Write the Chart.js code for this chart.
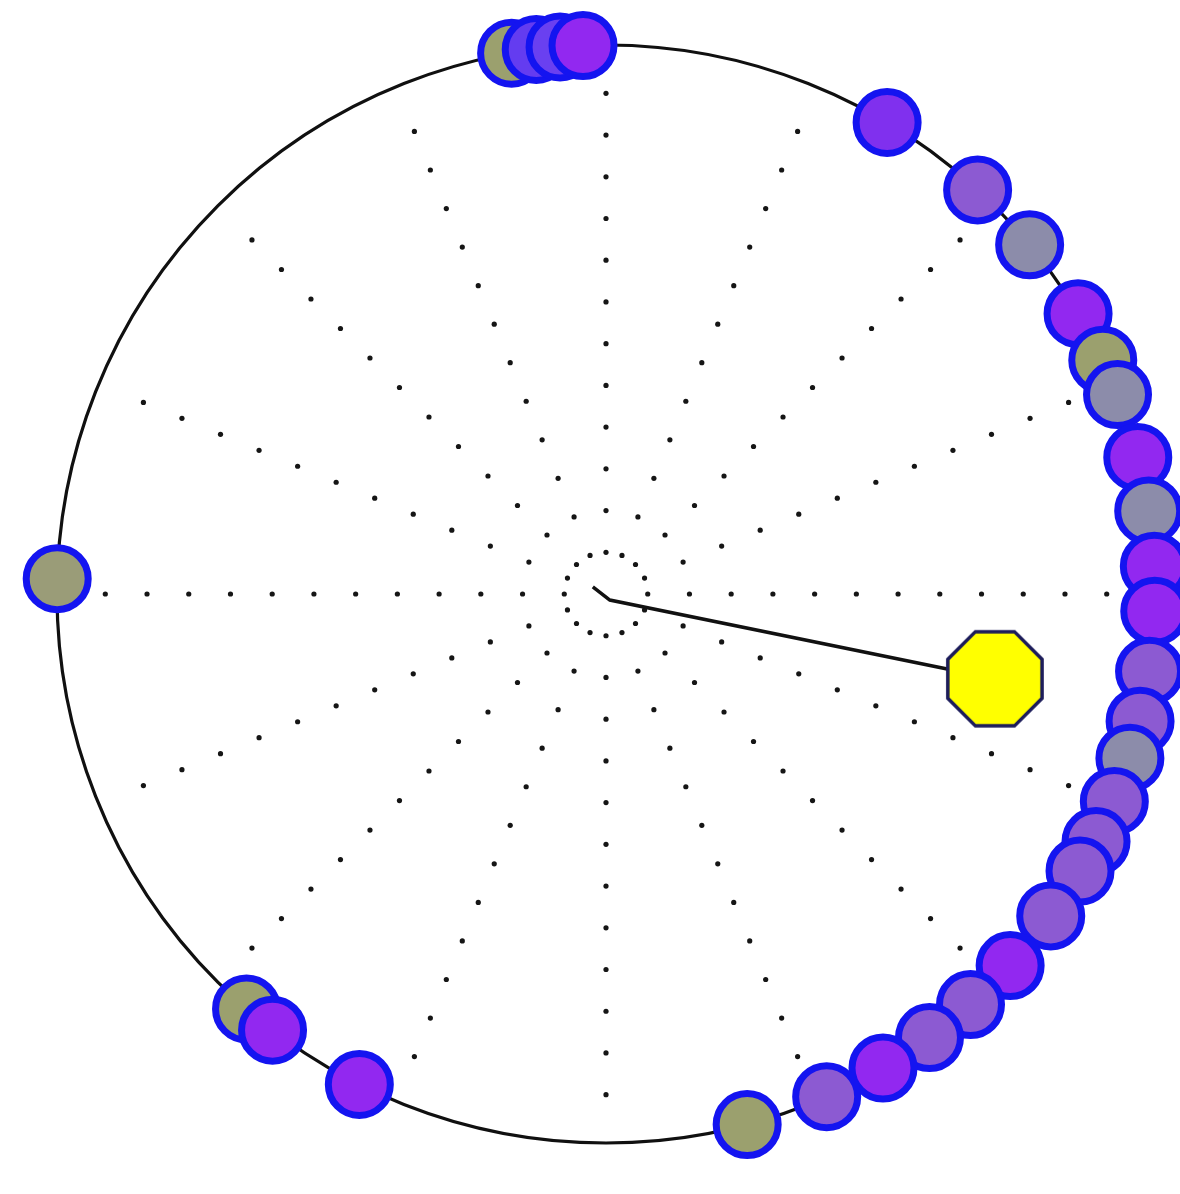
<!DOCTYPE html>
<html>
<head>
<meta charset="utf-8">
<script src="https://cdn.jsdelivr.net/npm/chart.js@4/dist/chart.umd.min.js"></script>
<style>
  html, body { margin: 0; padding: 0; background: #ffffff; }
  #wrap { width: 1180px; height: 1194px; position: relative; }
</style>
</head>
<body>
<div id="wrap"><canvas id="phase"></canvas></div>
<script>
// Oscillator phases on the unit circle (degrees) and their fill colours
const phaseDeg = [178.4, 99.9, 97.3, 94.8, 92.4, 59.2, 47.4, 39.5, 30.7, 25.2, 21.3, 14.4, 8.7, 2.9, -1.8,
  -8.1, -13.4, -17.4, -22.2, -26.8, -30.3, -35.9, -42.6, -48.4, -53.9, -59.7, -66.3, -75.1, 229.1, 232.6, 243.3];
const phaseColor = ['#9a9c78', '#9ba06e', '#643cf0', '#6a40f0', '#9228f0', '#8030ee', '#8c5ad2', '#8c8caa',
  '#9228f0', '#9ba06e', '#8c8caa', '#9228f0', '#8c8caa', '#9228f0', '#9228f0', '#8c5ad2', '#8c5ad2',
  '#8c8caa', '#8c5ad2', '#8c5ad2', '#8c5ad2', '#8c5ad2', '#9228f0', '#8c5ad2', '#8c5ad2', '#9228f0',
  '#8c5ad2', '#9ba06e', '#9ba06e', '#9228f0', '#9228f0'];

// Order parameter (magnitude, angle) and the path leading to it
const orderR = 0.725;
const orderPsiDeg = -12.3;
const trailX = [-0.024, 0.007];
const trailY = [0.013, -0.011];

// Dotted spokes: angular step (deg), radial step between dots, dots per spoke
const spokeStepDeg = 22.5;
const dotStep = 0.076;
const dotCount = 12;

const rad = d => d * Math.PI / 180;
const oscPoints = phaseDeg.map(d => ({ x: Math.cos(rad(d)), y: Math.sin(rad(d)) }));
const orderPoint = { x: orderR * Math.cos(rad(orderPsiDeg)), y: orderR * Math.sin(rad(orderPsiDeg)) };
const trailPoints = trailX.map((x, i) => ({ x, y: trailY[i] })).concat([orderPoint]);

// Octagon marker for the order parameter
function octagon(radius, fill, stroke, lw) {
  const c = document.createElement('canvas');
  const s = Math.ceil(2 * radius + lw + 2);
  c.width = s; c.height = s;
  const g = c.getContext('2d');
  g.beginPath();
  for (let k = 0; k < 8; k++) {
    const a = rad(22.5 + 45 * k);
    const px = s / 2 + radius * Math.cos(a), py = s / 2 + radius * Math.sin(a);
    if (k === 0) g.moveTo(px, py); else g.lineTo(px, py);
  }
  g.closePath();
  g.fillStyle = fill; g.fill();
  g.lineWidth = lw; g.strokeStyle = stroke; g.stroke();
  return c;
}

// Unit circle and dotted spokes, drawn from the scales
const polarGrid = {
  id: 'polarGrid',
  beforeDatasetsDraw(chart) {
    const { ctx, scales: { x, y } } = chart;
    const cx = x.getPixelForValue(0), cy = y.getPixelForValue(0);
    ctx.save();
    ctx.fillStyle = '#151515';
    for (let a = 0; a < 360; a += spokeStepDeg) {
      for (let k = 1; k <= dotCount; k++) {
        const r = k * dotStep;
        const px = x.getPixelForValue(r * Math.cos(rad(a)));
        const py = y.getPixelForValue(r * Math.sin(rad(a)));
        ctx.beginPath();
        ctx.arc(px, py, 2.6, 0, Math.PI * 2);
        ctx.fill();
      }
    }
    const rx = x.getPixelForValue(1) - cx;
    const ry = cy - y.getPixelForValue(1);
    ctx.beginPath();
    ctx.ellipse(cx, cy, rx, ry, 0, 0, Math.PI * 2);
    ctx.lineWidth = 3.2;
    ctx.strokeStyle = '#101010';
    ctx.stroke();
    ctx.restore();
  }
};

new Chart(document.getElementById('phase'), {
  type: 'scatter',
  data: {
    datasets: [
      {
        label: 'order parameter',
        data: [orderPoint],
        pointStyle: octagon(51, '#ffff00', '#1c1c5a', 3.5),
        pointRadius: 51,
        order: 0
      },
      {
        label: 'oscillators',
        data: oscPoints,
        pointStyle: 'circle',
        pointRadius: 31,
        pointBorderWidth: 7,
        pointBorderColor: '#1414f0',
        pointBackgroundColor: phaseColor,
        order: 1
      },
      {
        label: 'trail',
        type: 'line',
        data: trailPoints,
        showLine: true,
        borderColor: '#111111',
        borderWidth: 3.5,
        pointRadius: 0,
        fill: false,
        order: 2
      }
    ]
  },
  options: {
    responsive: true,
    maintainAspectRatio: false,
    animation: false,
    layout: { padding: 0, autoPadding: false },
    clip: false,
    plugins: { legend: { display: false }, tooltip: { enabled: false } },
    scales: {
      x: { type: 'linear', display: false, min: -1.1038, max: 1.0455 },
      y: { type: 'linear', display: false, min: -1.0929, max: 1.0820 }
    },
    events: []
  },
  plugins: [polarGrid]
});
</script>
</body>
</html>
